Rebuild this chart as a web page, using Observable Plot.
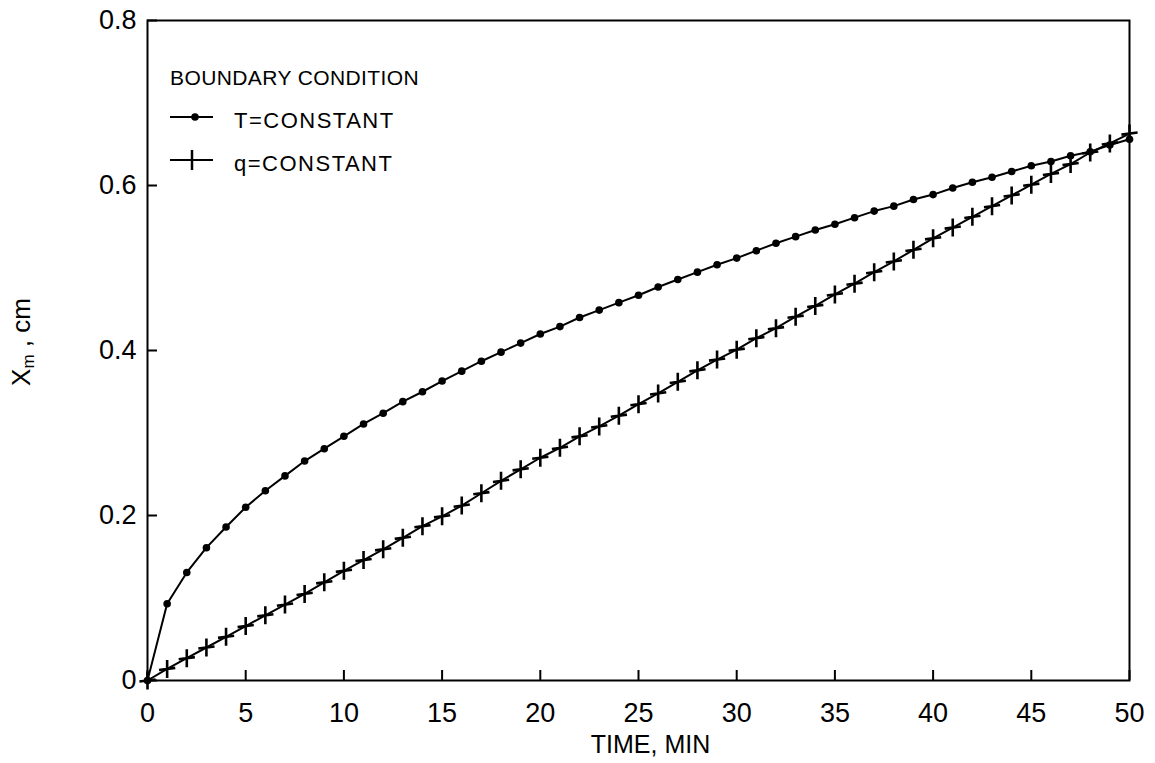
<!DOCTYPE html>
<html><head><meta charset="utf-8">
<script src="https://cdn.jsdelivr.net/npm/d3@7"></script>
<script src="https://cdn.jsdelivr.net/npm/@observablehq/plot@0.6"></script>
<style>
body{margin:0;background:#fff;}
#wrap{position:relative;width:1155px;height:763px;font-family:"Liberation Sans",Arial,Helvetica,sans-serif;color:#000;}
#ylabel{position:absolute;left:22px;top:342px;transform:translate(-50%,-50%) rotate(-90deg);font-size:26px;white-space:nowrap;}
#ylabel sub{font-size:17px;vertical-align:-4px;}
#legend{position:absolute;left:165px;top:55px;}
</style></head><body><div id="wrap"></div>
<script>
const time = [0,1,2,3,4,5,6,7,8,9,10,11,12,13,14,15,16,17,18,19,20,21,22,23,24,25,26,27,28,29,30,31,32,33,34,35,36,37,38,39,40,41,42,43,44,45,46,47,48,49,50];
const tConstant = [0,0.093,0.131,0.161,0.186,0.210,0.230,0.248,0.266,0.281,0.296,0.311,0.324,0.338,0.350,0.363,0.375,0.387,0.398,0.409,0.420,0.429,0.440,0.449,0.458,0.467,0.477,0.486,0.495,0.504,0.512,0.521,0.530,0.538,0.546,0.553,0.561,0.569,0.575,0.583,0.589,0.597,0.604,0.610,0.617,0.624,0.629,0.636,0.641,0.649,0.656];
const qConstant = [0,0.014,0.027,0.040,0.053,0.066,0.079,0.092,0.105,0.119,0.133,0.146,0.159,0.173,0.187,0.199,0.212,0.227,0.242,0.256,0.270,0.282,0.296,0.308,0.321,0.335,0.348,0.362,0.376,0.389,0.401,0.415,0.427,0.441,0.454,0.468,0.481,0.495,0.508,0.522,0.536,0.549,0.562,0.575,0.588,0.601,0.614,0.626,0.640,0.651,0.663];
const xTicks = [0,5,10,15,20,25,30,35,40,45,50];
const yTicks = [0,0.2,0.4,0.6,0.8];
const seriesNames = ["T=CONSTANT","q=CONSTANT"];
const legendTitle = "BOUNDARY CONDITION";
const xLabel = "TIME, MIN";

const tData = time.map((t,i)=>({t, v:tConstant[i]}));
const qData = time.map((t,i)=>({t, v:qConstant[i]}));

const crossSymbol = {
  draw(ctx, size){
    const r = Math.sqrt(size/Math.PI)*1.8;
    ctx.moveTo(0,-r); ctx.lineTo(0,r);
    ctx.moveTo(-r*0.9, r*0.12); ctx.lineTo(r*0.9, -r*0.12);
  }
};

const font = '"Liberation Sans",Arial,Helvetica,sans-serif';
const yFmt = d => d === 0 ? "0" : d.toFixed(1);
const W = 1155, H = 763, ML = 147, MR = 26, MT = 20, MB = 83, TICK = 10;
const chart = Plot.plot({
  width:W, height:H,
  marginLeft:ML, marginRight:MR, marginTop:MT, marginBottom:MB,
  style:{fontFamily:font, fontSize:"27px", color:"#000", background:"#fff", overflow:"visible"},
  x:{domain:[0,50]},
  y:{domain:[0,0.8]},
  marks:[
    Plot.frame({stroke:"#000", strokeWidth:2}),
    Plot.ruleX(xTicks,{stroke:"#000", strokeWidth:2, insetTop:(H-MT-MB)-TICK}),
    Plot.ruleY(yTicks,{stroke:"#000", strokeWidth:2, insetRight:(W-ML-MR)-TICK}),
    Plot.axisX(xTicks,{tickSize:0, tickPadding:22, label:null, fontSize:27}),
    Plot.axisY(yTicks,{tickSize:0, tickPadding:11, label:null, fontSize:27, tickFormat:yFmt}),
    Plot.line(tData,{x:"t", y:"v", stroke:"#000", strokeWidth:2}),
    Plot.dot(tData,{x:"t", y:"v", r:3.8, fill:"#000", stroke:"none"}),
    Plot.line(qData,{x:"t", y:"v", stroke:"#000", strokeWidth:2}),
    Plot.dot(qData,{x:"t", y:"v", r:5, symbol:crossSymbol, fill:"none", stroke:"#000", strokeWidth:2.6}),
    Plot.text([xLabel],{frameAnchor:"bottom", dy:55, dx:12, lineAnchor:"top", fontSize:25})
  ]
});
const wrap = document.getElementById("wrap");
wrap.appendChild(chart);

const yl = document.createElement("div");
yl.id = "ylabel";
yl.innerHTML = "X<sub>m</sub> , cm";
wrap.appendChild(yl);

// legend
const leg = d3.select(wrap).append("svg").attr("id","legend").attr("width",320).attr("height",130)
  .style("font-family", font);
leg.append("text").attr("x",5).attr("y",30).attr("font-size",21).attr("letter-spacing",0.4).text(legendTitle);
const rows = [{y:62, name:seriesNames[0], kind:"dot"},{y:105, name:seriesNames[1], kind:"cross"}];
rows.forEach(r=>{
  leg.append("line").attr("x1",5).attr("x2",48).attr("y1",r.y).attr("y2",r.y).attr("stroke","#000").attr("stroke-width",2);
  if(r.kind==="dot") leg.append("circle").attr("cx",30).attr("cy",r.y).attr("r",3.8).attr("fill","#000");
  else leg.append("line").attr("x1",27).attr("x2",27).attr("y1",r.y-10).attr("y2",r.y+10).attr("stroke","#000").attr("stroke-width",2.5);
  leg.append("text").attr("x",69).attr("y",r.y+11).attr("font-size",22).attr("letter-spacing",1.5).text(r.name);
});
</script></body></html>
